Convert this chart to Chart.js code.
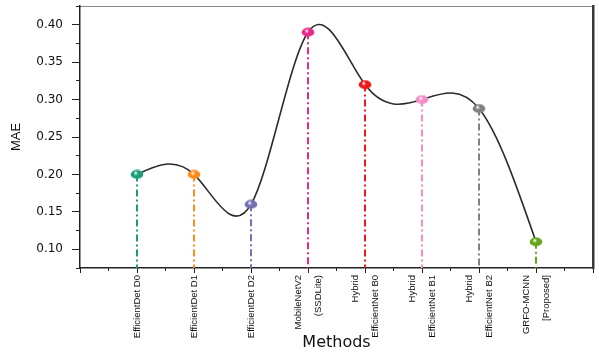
<!DOCTYPE html>
<html><head><meta charset="utf-8">
<script src="https://cdn.jsdelivr.net/npm/chart.js@4"></script>
<style>html,body{margin:0;padding:0;background:#fff;overflow:hidden}canvas{display:block}</style>
</head><body>
<canvas id="c" width="599" height="356"></canvas>
<script>
// ---- data ----
const METHODS = [
  'EfficientDet D0', 'EfficientDet D1', 'EfficientDet D2',
  ['MobileNetV2', '(SSDLite)'],
  ['Hybrid', 'EfficientNet B0'],
  ['Hybrid', 'EfficientNet B1'],
  ['Hybrid', 'EfficientNet B2'],
  ['GRFO-MCNN', '[Proposed]']
];
const MAE = [0.20, 0.20, 0.16, 0.39, 0.32, 0.30, 0.288, 0.11];
const Y_TICKS = [0.10, 0.15, 0.20, 0.25, 0.30, 0.35, 0.40];
const Y_MIN = 0.075, Y_MAX = 0.425;
const X_MIN = -1, X_MAX = METHODS.length;

// ---- styles ----
const COLORS = ['#1b9e77', '#ff8c1a', '#7570b3', '#e7298a', '#f01818', '#f48cc8', '#808080', '#66a61e'];

function makeMarker(color) {
  const c = document.createElement('canvas');
  c.width = 14; c.height = 10;
  const g = c.getContext('2d');
  const grad = g.createRadialGradient(5.5, 3.5, 0.3, 7, 5, 7);
  grad.addColorStop(0, '#ffffff');
  grad.addColorStop(0.3, color);
  grad.addColorStop(1, color);
  g.fillStyle = grad;
  g.beginPath(); g.ellipse(7, 5, 6.4, 4.4, 0, 0, Math.PI * 2); g.fill();
  return c;
}

function noPad(s) { s.paddingTop = 0; s.paddingBottom = 0; s.paddingLeft = 0; s.paddingRight = 0; }

// natural cubic spline through the points computed by the library
const splinePlugin = {
  id: 'naturalSpline',
  beforeDatasetDraw(chart, args) {
    if (args.index !== 0) return;
    const meta = args.meta, line = meta.dataset, pts = meta.data, n = pts.length;
    if (line.updateControlPoints) line.updateControlPoints(chart.chartArea, 'x');
    const xs = pts.map(p => p.x), ys = pts.map(p => p.y);
    const h = []; for (let i = 0; i < n - 1; i++) h.push(xs[i + 1] - xs[i]);
    const M = new Array(n).fill(0);
    if (n > 2) {
      const m = n - 2, a = [], b = [], c = [], d = [];
      for (let k = 0; k < m; k++) {
        const i = k + 1;
        a.push(h[i - 1]); b.push(2 * (h[i - 1] + h[i])); c.push(h[i]);
        d.push(6 * ((ys[i + 1] - ys[i]) / h[i] - (ys[i] - ys[i - 1]) / h[i - 1]));
      }
      for (let k = 1; k < m; k++) {
        const w = a[k] / b[k - 1];
        b[k] -= w * c[k - 1]; d[k] -= w * d[k - 1];
      }
      const sol = new Array(m);
      sol[m - 1] = d[m - 1] / b[m - 1];
      for (let k = m - 2; k >= 0; k--) sol[k] = (d[k] - c[k] * sol[k + 1]) / b[k];
      for (let k = 0; k < m; k++) M[k + 1] = sol[k];
    }
    for (let i = 0; i < n; i++) {
      let s;
      if (i < n - 1) s = (ys[i + 1] - ys[i]) / h[i] - h[i] * (2 * M[i] + M[i + 1]) / 6;
      else s = (ys[i] - ys[i - 1]) / h[i - 1] + h[i - 1] * (M[i - 1] + 2 * M[i]) / 6;
      const p = pts[i];
      const hb = i > 0 ? h[i - 1] : 0, ha = i < n - 1 ? h[i] : 0;
      p.cp1x = xs[i] - hb / 3; p.cp1y = ys[i] - s * hb / 3;
      p.cp2x = xs[i] + ha / 3; p.cp2y = ys[i] + s * ha / 3;
    }
    line._path = undefined;
  }
};

// center multi-line rotated labels on their tick
const labelPlugin = {
  id: 'labelCenter',
  beforeDraw(chart) {
    const sc = chart.scales.x;
    if (!sc || !sc.getLabelItems) return;
    const items = sc.getLabelItems(chart.chartArea);
    items.forEach(it => {
      if (Array.isArray(it.label) && it.label.length > 1 && !it._shifted) {
        const lh = it.font.lineHeight;
        it.options.translation[0] -= (it.label.length - 1) * lh / 2;
        it._shifted = true;
      }
    });
  }
};

const datasets = [{
  data: MAE.map((v, i) => ({ x: i, y: v })),
  borderColor: '#2b2b2b', borderWidth: 1.6, tension: 0.4, fill: false,
  pointStyle: COLORS.map(makeMarker), pointRadius: 6, pointBorderWidth: 0
}].concat(MAE.map((v, i) => ({
  data: [{ x: i, y: v }, { x: i, y: Y_MIN }],
  borderColor: COLORS[i], borderWidth: 2, borderDash: [7, 3, 2, 3],
  pointRadius: 0, tension: 0, fill: false
})));

const frameAxis = (position, color, width) => ({
  type: 'linear', position, display: true,
  min: position === 'top' ? X_MIN : Y_MIN, max: position === 'top' ? X_MAX : Y_MAX,
  afterFit(s) { if (position === 'top') s.height = 0; else s.width = 0; noPad(s); },
  ticks: { display: false },
  grid: { drawOnChartArea: false, drawTicks: false },
  border: { display: true, color, width }
});

new Chart(document.getElementById('c'), {
  type: 'line',
  data: { datasets },
  plugins: [splinePlugin, labelPlugin],
  options: {
    responsive: false, animation: false,
    layout: { padding: { top: 5, right: 6, left: 0, bottom: 0 } },
    plugins: { legend: { display: false }, tooltip: { enabled: false } },
    scales: {
      x: {
        type: 'linear', position: 'bottom', min: X_MIN, max: X_MAX, weight: 1,
        afterFit(s) { s.height = 88; noPad(s); },
        ticks: {
          stepSize: 1, autoSkip: false, minRotation: 90, maxRotation: 90, padding: 2, color: '#111',
          font: { family: "'Liberation Sans', Arial, sans-serif", size: 9.5, lineHeight: 2.1 },
          callback: v => {
            const r = Math.round(v);
            return Math.abs(v - r) < 1e-6 && r >= 0 && r < METHODS.length ? METHODS[r] : '';
          }
        },
        grid: { drawOnChartArea: false, drawTicks: true, tickLength: 5, tickColor: '#222', tickWidth: 1 },
        border: { display: true, color: '#222', width: 1.5 },
        title: { display: true, text: 'Methods', color: '#111',
          font: { family: "'DejaVu Sans', sans-serif", size: 16 }, padding: { top: 0, bottom: 4 } }
      },
      xMinor: {
        type: 'linear', position: 'bottom', min: X_MIN, max: X_MAX, weight: 0,
        afterFit(s) { s.height = 0; noPad(s); },
        ticks: { display: false, stepSize: 0.5, autoSkip: false },
        grid: { drawOnChartArea: false, drawTicks: true, tickLength: 3, tickColor: '#222', tickWidth: 1 },
        border: { display: false }
      },
      xTop: frameAxis('top', '#8a8a8a', 1),
      y: {
        type: 'linear', position: 'left', min: Y_MIN, max: Y_MAX, weight: 1,
        afterBuildTicks(s) { s.ticks = Y_TICKS.map(v => ({ value: v })); },
        afterFit(s) { s.width = 80; noPad(s); },
        ticks: {
          autoSkip: false, padding: 9, color: '#111',
          font: { family: "'DejaVu Sans', sans-serif", size: 12 },
          callback: v => v.toFixed(2)
        },
        grid: { drawOnChartArea: false, drawTicks: true, tickLength: 8, tickColor: '#222', tickWidth: 1 },
        border: { display: true, color: '#222', width: 1.5 },
        title: { display: true, text: 'MAE', color: '#111',
          font: { family: "'Liberation Sans', Arial, sans-serif", size: 13 }, padding: { top: 9, bottom: 0 } }
      },
      yMinor: {
        type: 'linear', position: 'left', min: Y_MIN, max: Y_MAX, weight: 0,
        afterFit(s) { s.width = 0; noPad(s); },
        ticks: { display: false, stepSize: 0.025, autoSkip: false },
        grid: { drawOnChartArea: false, drawTicks: true, tickLength: 4, tickColor: '#222', tickWidth: 1 },
        border: { display: false }
      },
      yRight: frameAxis('right', '#3a3a3a', 2.5)
    }
  }
});
</script>
</body></html>
